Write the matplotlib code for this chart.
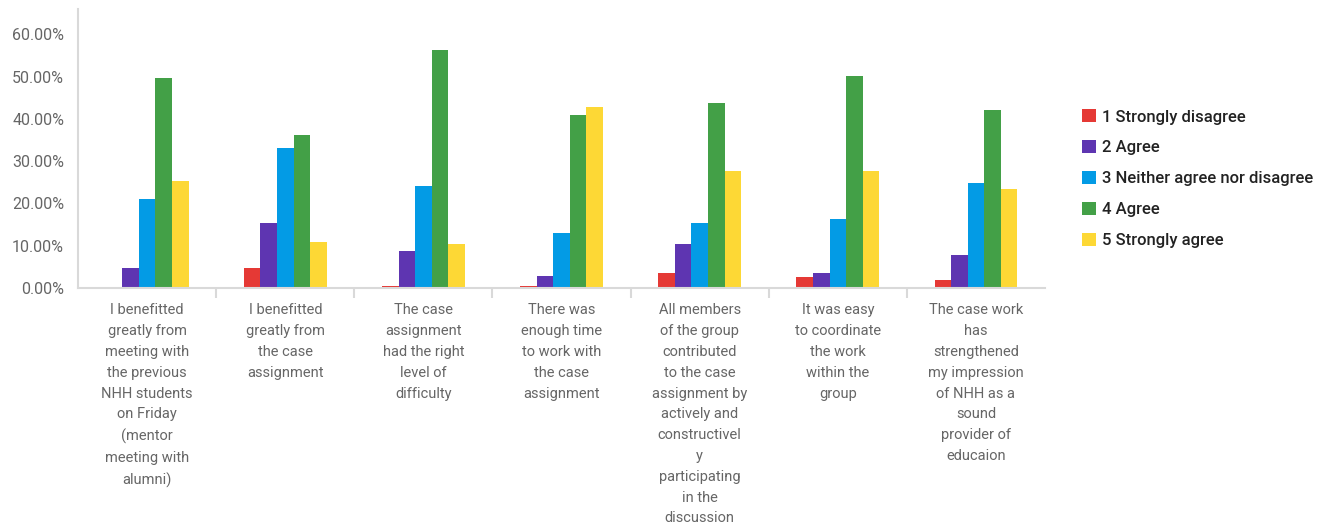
import numpy as np
import matplotlib.pyplot as plt
from matplotlib.patches import Patch
from matplotlib.ticker import FuncFormatter

categories = [
    "I benefitted\ngreatly from\nmeeting with\nthe previous\nNHH students\non Friday\n(mentor\nmeeting with\nalumni)",
    "I benefitted\ngreatly from\nthe case\nassignment",
    "The case\nassignment\nhad the right\nlevel of\ndifficulty",
    "There was\nenough time\nto work with\nthe case\nassignment",
    "All members\nof the group\ncontributed\nto the case\nassignment by\nactively and\nconstructivel\ny\nparticipating\nin the\ndiscussion",
    "It was easy\nto coordinate\nthe work\nwithin the\ngroup",
    "The case work\nhas\nstrengthened\nmy impression\nof NHH as a\nsound\nprovider of\neducaion",
]

series_names = ["1 Strongly disagree", "2 Agree", "3 Neither agree nor disagree",
                "4 Agree", "5 Strongly agree"]

strongly_disagree = [0.0, 4.7, 0.5, 0.5, 3.6, 2.6, 2.0]
agree_2 = [4.7, 15.3, 8.8, 2.9, 10.4, 3.6, 7.7]
neither = [21.1, 33.2, 24.2, 12.9, 15.3, 16.4, 24.9]
agree_4 = [49.6, 36.2, 56.4, 41.0, 43.7, 50.2, 42.0]
strongly_agree = [25.2, 10.8, 10.4, 42.7, 27.6, 27.6, 23.5]

colors = ["#E53935", "#5E35B1", "#039BE5", "#43A047", "#FDD835"]

values = [strongly_disagree, agree_2, neither, agree_4, strongly_agree]

plt.rcParams['font.family'] = ['Roboto', 'DejaVu Sans']

fig = plt.figure(figsize=(13.34, 5.29), dpi=100)
ax = fig.add_axes([0.0585, 0.4556, 0.7249, 0.5274])

x = np.arange(len(categories))
w = 0.12
for i, (vals, col) in enumerate(zip(values, colors)):
    ax.bar(x + (i - 2) * w, vals, width=w, color=col, edgecolor='none')

ax.set_xlim(-0.5, len(categories) - 0.5)
ax.set_ylim(0, 66)
ax.set_yticks(np.arange(0, 61, 10))
ax.yaxis.set_major_formatter(FuncFormatter(lambda v, p: f"{v:.2f}%"))

ax.set_xticks(x)
ax.set_xticklabels(categories, linespacing=1.62)
ax.set_xticks(np.arange(0.5, len(categories) - 0.5, 1), minor=True)

grey = "#d9d9d9"
for s in ["top", "right"]:
    ax.spines[s].set_visible(False)
for s in ["left", "bottom"]:
    ax.spines[s].set_color(grey)
    ax.spines[s].set_linewidth(1.5)

ax.tick_params(axis='x', which='major', length=0, pad=11, labelsize=10.5, labelcolor="#666666")
ax.tick_params(axis='x', which='minor', length=7, width=1.5, color=grey)
ax.tick_params(axis='y', length=0, pad=10, labelsize=11.5, labelcolor="#666666")

handles = [Patch(facecolor=c, edgecolor='none') for c in colors]
fig.legend(handles, series_names, loc='upper left', bbox_to_anchor=(0.7995, 0.822),
           frameon=False, prop={'size': 12, 'weight': 'medium'},
           handlelength=0.85, handleheight=0.85,
           handletextpad=0.4, labelspacing=0.93, labelcolor="#222222")

fig.savefig("out.png", dpi=100)
